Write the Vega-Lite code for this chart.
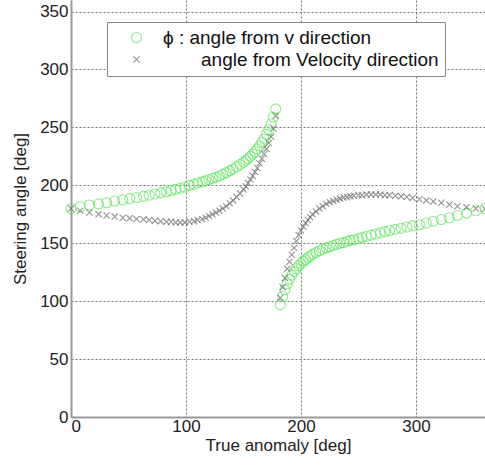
{
  "$schema": "https://vega.github.io/schema/vega-lite/v6.json",
  "width": 414,
  "height": 417,
  "autosize": {"type": "none"},
  "padding": {"left": 71, "top": 0, "right": 0, "bottom": 50},
  "background": "white",
  "config": {
    "view": {"stroke": null},
    "font": "Liberation Sans"
  },
  "data": {"values": [
    {"nu":0,"angle":180,"s":"phi"},{"nu":8,"angle":181.5,"s":"phi"},{"nu":16,"angle":183,"s":"phi"},{"nu":24,"angle":184,"s":"phi"},{"nu":31,"angle":185,"s":"phi"},{"nu":38,"angle":186.5,"s":"phi"},{"nu":45,"angle":187.5,"s":"phi"},{"nu":51,"angle":188.5,"s":"phi"},{"nu":57,"angle":189.5,"s":"phi"},{"nu":63,"angle":190.5,"s":"phi"},{"nu":68,"angle":191.5,"s":"phi"},{"nu":73,"angle":192.5,"s":"phi"},{"nu":78,"angle":193.5,"s":"phi"},{"nu":83,"angle":194.5,"s":"phi"},{"nu":87,"angle":195.5,"s":"phi"},{"nu":91,"angle":196.5,"s":"phi"},{"nu":95,"angle":197.5,"s":"phi"},{"nu":99,"angle":198.5,"s":"phi"},{"nu":103,"angle":200,"s":"phi"},{"nu":107,"angle":201,"s":"phi"},{"nu":110,"angle":202,"s":"phi"},{"nu":114,"angle":203,"s":"phi"},{"nu":117,"angle":204,"s":"phi"},{"nu":120,"angle":205,"s":"phi"},{"nu":123,"angle":206,"s":"phi"},{"nu":126,"angle":207,"s":"phi"},{"nu":129,"angle":208,"s":"phi"},{"nu":132,"angle":209.5,"s":"phi"},{"nu":135,"angle":211,"s":"phi"},{"nu":138,"angle":212.5,"s":"phi"},{"nu":141,"angle":214,"s":"phi"},{"nu":144,"angle":216,"s":"phi"},{"nu":147,"angle":218,"s":"phi"},{"nu":150,"angle":220,"s":"phi"},{"nu":152,"angle":221.5,"s":"phi"},{"nu":154,"angle":223,"s":"phi"},{"nu":156,"angle":225,"s":"phi"},{"nu":158,"angle":227,"s":"phi"},{"nu":160,"angle":229,"s":"phi"},{"nu":162,"angle":231.5,"s":"phi"},{"nu":164,"angle":234,"s":"phi"},{"nu":166,"angle":237,"s":"phi"},{"nu":168,"angle":240,"s":"phi"},{"nu":170,"angle":244,"s":"phi"},{"nu":172,"angle":248,"s":"phi"},{"nu":174,"angle":253,"s":"phi"},{"nu":176,"angle":259,"s":"phi"},{"nu":178,"angle":266,"s":"phi"},
    {"nu":182,"angle":97,"s":"phi"},{"nu":184,"angle":104,"s":"phi"},{"nu":186,"angle":110,"s":"phi"},{"nu":188,"angle":115,"s":"phi"},{"nu":190,"angle":119,"s":"phi"},{"nu":192,"angle":122.5,"s":"phi"},{"nu":194,"angle":125.5,"s":"phi"},{"nu":196,"angle":128,"s":"phi"},{"nu":198,"angle":130.5,"s":"phi"},{"nu":200,"angle":132.5,"s":"phi"},{"nu":202,"angle":134.5,"s":"phi"},{"nu":204,"angle":136,"s":"phi"},{"nu":206,"angle":137.5,"s":"phi"},{"nu":208,"angle":139,"s":"phi"},{"nu":210,"angle":140.5,"s":"phi"},{"nu":213,"angle":142,"s":"phi"},{"nu":216,"angle":143.5,"s":"phi"},{"nu":219,"angle":145,"s":"phi"},{"nu":222,"angle":146,"s":"phi"},{"nu":225,"angle":147,"s":"phi"},{"nu":228,"angle":148,"s":"phi"},{"nu":231,"angle":149,"s":"phi"},{"nu":234,"angle":150,"s":"phi"},{"nu":237,"angle":150.5,"s":"phi"},{"nu":240,"angle":151.5,"s":"phi"},{"nu":243,"angle":152.5,"s":"phi"},{"nu":246,"angle":153,"s":"phi"},{"nu":250,"angle":154,"s":"phi"},{"nu":253,"angle":155,"s":"phi"},{"nu":257,"angle":156,"s":"phi"},{"nu":261,"angle":157,"s":"phi"},{"nu":265,"angle":158,"s":"phi"},{"nu":269,"angle":159,"s":"phi"},{"nu":273,"angle":160,"s":"phi"},{"nu":277,"angle":161,"s":"phi"},{"nu":282,"angle":162,"s":"phi"},{"nu":287,"angle":163,"s":"phi"},{"nu":292,"angle":164,"s":"phi"},{"nu":297,"angle":165,"s":"phi"},{"nu":303,"angle":166,"s":"phi"},{"nu":309,"angle":167.5,"s":"phi"},{"nu":315,"angle":169,"s":"phi"},{"nu":322,"angle":170.5,"s":"phi"},{"nu":329,"angle":172,"s":"phi"},{"nu":336,"angle":174,"s":"phi"},{"nu":344,"angle":176,"s":"phi"},{"nu":352,"angle":178,"s":"phi"},{"nu":360,"angle":180,"s":"phi"},
    {"nu":0,"angle":180,"s":"vel"},{"nu":8,"angle":178,"s":"vel"},{"nu":16,"angle":176.5,"s":"vel"},{"nu":24,"angle":175,"s":"vel"},{"nu":31,"angle":174,"s":"vel"},{"nu":38,"angle":173,"s":"vel"},{"nu":45,"angle":172,"s":"vel"},{"nu":51,"angle":171.5,"s":"vel"},{"nu":57,"angle":171,"s":"vel"},{"nu":63,"angle":170.5,"s":"vel"},{"nu":68,"angle":170,"s":"vel"},{"nu":73,"angle":169.5,"s":"vel"},{"nu":78,"angle":169,"s":"vel"},{"nu":83,"angle":168.5,"s":"vel"},{"nu":87,"angle":168.5,"s":"vel"},{"nu":91,"angle":168,"s":"vel"},{"nu":95,"angle":168,"s":"vel"},{"nu":99,"angle":168,"s":"vel"},{"nu":103,"angle":168.5,"s":"vel"},{"nu":107,"angle":169,"s":"vel"},{"nu":110,"angle":170,"s":"vel"},{"nu":114,"angle":171,"s":"vel"},{"nu":117,"angle":172,"s":"vel"},{"nu":120,"angle":173.5,"s":"vel"},{"nu":123,"angle":175,"s":"vel"},{"nu":126,"angle":176.5,"s":"vel"},{"nu":129,"angle":178,"s":"vel"},{"nu":132,"angle":180,"s":"vel"},{"nu":135,"angle":182,"s":"vel"},{"nu":138,"angle":184.5,"s":"vel"},{"nu":141,"angle":187,"s":"vel"},{"nu":144,"angle":190,"s":"vel"},{"nu":147,"angle":193,"s":"vel"},{"nu":150,"angle":196.5,"s":"vel"},{"nu":152,"angle":199,"s":"vel"},{"nu":154,"angle":202,"s":"vel"},{"nu":156,"angle":205,"s":"vel"},{"nu":158,"angle":208,"s":"vel"},{"nu":160,"angle":211.5,"s":"vel"},{"nu":162,"angle":215,"s":"vel"},{"nu":164,"angle":219,"s":"vel"},{"nu":166,"angle":223,"s":"vel"},{"nu":168,"angle":227,"s":"vel"},{"nu":170,"angle":231.5,"s":"vel"},{"nu":172,"angle":236.5,"s":"vel"},{"nu":174,"angle":242,"s":"vel"},{"nu":176,"angle":249,"s":"vel"},{"nu":178,"angle":260,"s":"vel"},
    {"nu":182,"angle":103,"s":"vel"},{"nu":184,"angle":112,"s":"vel"},{"nu":186,"angle":120,"s":"vel"},{"nu":188,"angle":128,"s":"vel"},{"nu":190,"angle":134,"s":"vel"},{"nu":192,"angle":140,"s":"vel"},{"nu":194,"angle":146,"s":"vel"},{"nu":196,"angle":152,"s":"vel"},{"nu":198,"angle":157,"s":"vel"},{"nu":200,"angle":161,"s":"vel"},{"nu":202,"angle":164.5,"s":"vel"},{"nu":204,"angle":167.5,"s":"vel"},{"nu":206,"angle":170,"s":"vel"},{"nu":208,"angle":172.5,"s":"vel"},{"nu":210,"angle":175,"s":"vel"},{"nu":213,"angle":177.5,"s":"vel"},{"nu":216,"angle":180,"s":"vel"},{"nu":219,"angle":182,"s":"vel"},{"nu":222,"angle":184,"s":"vel"},{"nu":225,"angle":185.5,"s":"vel"},{"nu":228,"angle":186.5,"s":"vel"},{"nu":231,"angle":187.5,"s":"vel"},{"nu":234,"angle":188.5,"s":"vel"},{"nu":237,"angle":189.5,"s":"vel"},{"nu":240,"angle":190,"s":"vel"},{"nu":243,"angle":190.5,"s":"vel"},{"nu":246,"angle":191,"s":"vel"},{"nu":250,"angle":191.5,"s":"vel"},{"nu":253,"angle":191.5,"s":"vel"},{"nu":257,"angle":192,"s":"vel"},{"nu":261,"angle":192,"s":"vel"},{"nu":265,"angle":192,"s":"vel"},{"nu":269,"angle":192,"s":"vel"},{"nu":273,"angle":191.5,"s":"vel"},{"nu":277,"angle":191.5,"s":"vel"},{"nu":282,"angle":191,"s":"vel"},{"nu":287,"angle":190.5,"s":"vel"},{"nu":292,"angle":190,"s":"vel"},{"nu":297,"angle":189,"s":"vel"},{"nu":303,"angle":188,"s":"vel"},{"nu":309,"angle":187,"s":"vel"},{"nu":315,"angle":186,"s":"vel"},{"nu":322,"angle":185,"s":"vel"},{"nu":329,"angle":183.5,"s":"vel"},{"nu":336,"angle":182,"s":"vel"},{"nu":344,"angle":181,"s":"vel"},{"nu":352,"angle":180,"s":"vel"},{"nu":360,"angle":179.5,"s":"vel"}
  ]},
  "mark": {"type": "point", "filled": false, "strokeWidth": 1.1, "clip": false},
  "encoding": {
    "x": {
      "field": "nu", "type": "quantitative",
      "scale": {"domain": [0, 360], "nice": false, "zero": false},
      "axis": {
        "title": "True anomaly [deg]", "values": [0, 100, 200, 300],
        "grid": true, "gridColor": "#777", "gridDash": [2, 2], "gridWidth": 1,
        "domainColor": "#999", "domainWidth": 2, "ticks": false,
        "labelFontSize": 17, "labelColor": "#222", "labelPadding": 1,
        "titleFontSize": 17, "titleColor": "#222", "titleFontWeight": "normal", "titlePadding": 3
      }
    },
    "y": {
      "field": "angle", "type": "quantitative",
      "scale": {"domain": [0, 360], "nice": false, "zero": false},
      "axis": {
        "title": "Steering angle [deg]", "values": [0, 50, 100, 150, 200, 250, 300, 350],
        "grid": true, "gridColor": "#777", "gridDash": [2, 2], "gridWidth": 1,
        "domainColor": "#999", "domainWidth": 2, "ticks": false,
        "labelFontSize": 17, "labelColor": "#222", "labelPadding": 3,
        "titleFontSize": 17, "titleColor": "#222", "titleFontWeight": "normal", "titlePadding": 10
      }
    },
    "color": {
      "field": "s", "type": "nominal",
      "scale": {"domain": ["phi", "vel"], "range": ["#5ee65e", "#666666"]},
      "legend": {
        "title": null, "orient": "none", "legendX": 36, "legendY": 22,
        "labelExpr": "datum.value == 'phi' ? 'ϕ : angle from v direction' : '\u200b\u2003\u2003angle from Velocity direction'",
        "labelFontSize": 19, "labelColor": "#111", "labelOffset": 17, "labelLimit": 0,
        "strokeColor": "#888", "fillColor": "white", "padding": 6,
        "rowPadding": 2, "symbolSize": 100, "symbolStrokeWidth": 1.1, "symbolOffset": 14
      }
    },
    "shape": {
      "field": "s", "type": "nominal",
      "scale": {"domain": ["phi", "vel"], "range": ["circle", "M-0.62,-0.62L0.62,0.62M-0.62,0.62L0.62,-0.62"]},
      "legend": null
    },
    "size": {"value": 100}
  }
}
